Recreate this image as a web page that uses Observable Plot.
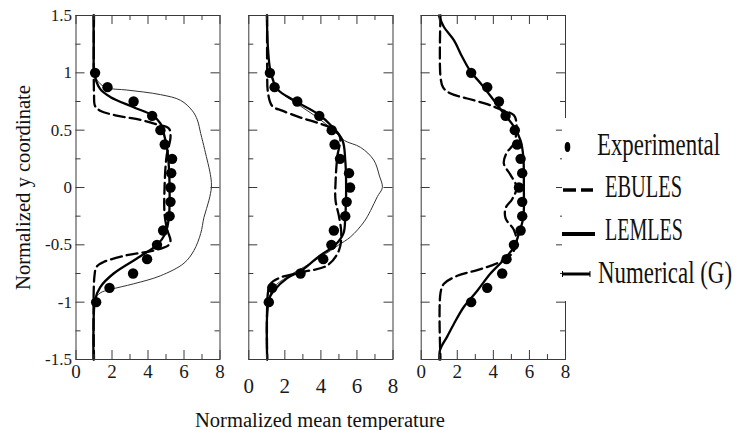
<!DOCTYPE html>
<html>
<head>
<meta charset="utf-8">
<script src="https://cdn.jsdelivr.net/npm/d3@7"></script>
<script src="https://cdn.jsdelivr.net/npm/@observablehq/plot@0.6"></script>
<style>
  html, body { margin: 0; padding: 0; background: #fff; }
  #chart { position: relative; width: 738px; height: 430px; overflow: hidden; background: #fff; font-family: "Liberation Serif", "Times New Roman", serif; }
  .panel { position: absolute; top: 0; }
  .panel text, #overlay text { font-family: "Liberation Serif", "Times New Roman", serif !important; }
  #overlay { position: absolute; left: 0; top: 0; pointer-events: none; }
</style>
</head>
<body>
<div id="chart"></div>
<script>
// ---- tick values ----
const xMajor = [0, 2, 4, 6, 8];
const xMinor = [1, 3, 5, 7];
const yMajor = [-1.5, -1, -0.5, 0, 0.5, 1, 1.5];
const yMinor = [-1.25, -0.75, -0.25, 0.25, 0.75, 1.25];

// ---- experimental points (normalized y) ----
const expY = [1, 0.875, 0.75, 0.625, 0.5, 0.375, 0.25, 0.125, 0, -0.125, -0.25, -0.375, -0.5, -0.625, -0.75, -0.875, -1];
const exp1T = [1.06, 1.75, 3.2, 4.23, 4.69, 4.93, 5.34, 5.29, 5.25, 5.25, 5.2, 4.84, 4.5, 3.95, 3.17, 1.86, 1.12];
const exp2T = [1.17, 1.43, 2.69, 3.91, 4.6, 4.76, 5.06, 5.56, 5.62, 5.43, 5.35, 4.72, 4.58, 4.13, 2.87, 1.3, 1.11];
const exp3T = [2.77, 3.66, 4.31, 4.68, 5.19, 5.32, 5.51, 5.6, 5.42, 5.6, 5.6, 5.51, 5.14, 4.73, 4.49, 3.66, 2.77];

// ---- panel 1 curves ----
const lem1Y = [1.5, 1.2, 0.99, 0.86, 0.79, 0.7, 0.63, 0.56, 0.47, 0.33, 0.18, 0, -0.26, -0.4, -0.5, -0.6, -0.75, -0.87, -0.98, -1.27, -1.5];
const lem1T = [0.97, 0.99, 1.02, 1.34, 1.9, 3.2, 4.23, 4.69, 4.88, 5.07, 5.16, 5.2, 5.16, 4.97, 4.5, 3.58, 2.09, 1.34, 1.06, 0.97, 0.97];
const ebu1Y = [1.5, 0.82, 0.71, 0.67, 0.63, 0.59, 0.55, 0.515, 0.44, 0.27, 0, -0.23, -0.37, -0.46, -0.5, -0.55, -0.59, -0.65, -0.69, -0.78, -1.5];
const ebu1T = [1.0, 1.0, 1.06, 1.34, 2.18, 3.58, 4.5, 5.16, 5.25, 5.03, 4.92, 4.92, 5.07, 5.25, 5.16, 4.32, 2.83, 1.53, 1.15, 1.02, 1.0];
const num1Y = [1.5, 1.0, 0.92, 0.87, 0.85, 0.81, 0.76, 0.67, 0.59, 0.47, 0.33, 0.09, 0, -0.11, -0.26, -0.4, -0.55, -0.66, -0.77, -0.84, -0.89, -0.92, -0.98, -1.5];
const num1T = [1.0, 1.02, 1.25, 1.71, 2.83, 4.69, 5.81, 6.46, 6.74, 6.93, 7.15, 7.49, 7.52, 7.39, 7.11, 6.93, 6.55, 6.0, 4.69, 3.2, 1.9, 1.34, 1.06, 1.0];

// ---- panel 2 curves ----
const lem2Y = [1.5, 1.2, 1.02, 0.86, 0.76, 0.645, 0.53, 0.41, 0.24, 0, -0.26, -0.4, -0.5, -0.6, -0.72, -0.79, -0.9, -0.98, -1.5];
const lem2T = [1.0, 1.07, 1.2, 1.57, 2.5, 3.8, 4.63, 5.2, 5.35, 5.4, 5.35, 5.25, 4.8, 3.89, 2.96, 2.13, 1.39, 1.11, 1.02];
const ebu2Y = [1.5, 1.05, 0.82, 0.71, 0.67, 0.61, 0.56, 0.515, 0.44, 0.27, 0.07, -0.11, -0.25, -0.4, -0.55, -0.68, -0.735, -0.785, -0.84, -0.92, -1.5];
const ebu2T = [1.02, 1.02, 1.07, 1.3, 1.85, 2.87, 3.89, 4.63, 5.06, 4.91, 4.82, 4.81, 5.0, 5.13, 5.0, 4.35, 3.06, 1.76, 1.2, 1.06, 1.02];
const num2Y = [1.5, 1.0, 0.85, 0.73, 0.59, 0.47, 0.41, 0.35, 0.24, 0.1, 0, -0.08, -0.2, -0.3, -0.43, -0.5, -0.55, -0.66, -0.78, -0.87, -0.98, -1.5];
const num2T = [1.0, 1.2, 1.67, 2.69, 3.98, 4.9, 5.3, 6.2, 6.93, 7.25, 7.41, 7.13, 6.76, 6.39, 5.65, 5.0, 4.54, 3.43, 2.13, 1.39, 1.11, 1.0];

// ---- panel 3 curves ----
const lem3Y = [1.5, 1.4, 1.285, 1.14, 1.01, 0.91, 0.76, 0.645, 0.53, 0.41, 0.27, 0, -0.26, -0.4, -0.52, -0.63, -0.75, -0.9, -1.04, -1.19, -1.3, -1.375, -1.42, -1.5];
const lem3T = [0.98, 1.26, 1.81, 2.27, 2.74, 3.29, 4.03, 4.58, 5.14, 5.51, 5.66, 5.69, 5.66, 5.42, 5.14, 4.58, 3.84, 3.11, 2.37, 1.81, 1.44, 1.16, 1.04, 1.0];
const ebu3Y = [1.5, 0.965, 0.87, 0.82, 0.776, 0.727, 0.68, 0.63, 0.53, 0.384, 0.3, 0.21, 0.11, 0, -0.1, -0.18, -0.27, -0.37, -0.49, -0.59, -0.66, -0.72, -0.77, -0.84, -0.92, -1.5];
const ebu3T = [1.07, 1.07, 1.22, 1.63, 2.55, 3.66, 4.4, 5.14, 5.29, 5.14, 4.73, 4.58, 4.95, 5.29, 5.05, 4.68, 4.68, 5.14, 5.29, 4.95, 4.21, 3.11, 2.0, 1.26, 1.07, 1.07];

// ---- text ----
const yTitle = "Normalized y coordinate";
const xTitle = "Normalized mean temperature";
const legendLabels = ["Experimental", "EBULES", "LEMLES", "Numerical (G)"];

const rows = (ys, ts) => ys.map((y, i) => ({y, t: ts[i]}));
const FONT = "Liberation Serif, Times New Roman, serif";

function panel(o) {
  const H = 400, MT = 15, MB = 41;
  const PH = H - MT - MB;
  const PW = o.width - o.ml - o.mr;
  const frameColor = "#3a3a3a";
  const marks = [];
  if (o.numY) marks.push(Plot.line(rows(o.numY, o.numT), {x: "t", y: "y", stroke: "#333", strokeWidth: 1, curve: "catmull-rom"}));
  marks.push(
    Plot.line(rows(o.ebuY, o.ebuT), {x: "t", y: "y", stroke: "#000", strokeWidth: 2.3, strokeDasharray: "11,5", curve: "catmull-rom"}),
    Plot.line(rows(o.lemY, o.lemT), {x: "t", y: "y", stroke: "#000", strokeWidth: 2.3, curve: "catmull-rom"}),
    Plot.dot(rows(expY, o.expT), {x: "t", y: "y", r: 5.2, fill: "#000", stroke: "none"}),
    Plot.frame({stroke: frameColor, strokeWidth: 1}),
    Plot.tickX(xMajor, {x: d => d, insetTop: PH - 9, stroke: frameColor}),
    Plot.tickX(xMinor, {x: d => d, insetTop: PH - 5, stroke: frameColor}),
    Plot.tickX(xMajor, {x: d => d, insetBottom: PH - 9, stroke: frameColor}),
    Plot.tickX(xMinor, {x: d => d, insetBottom: PH - 5, stroke: frameColor}),
    Plot.tickY(yMajor, {y: d => d, insetRight: PW - 9, stroke: frameColor}),
    Plot.tickY(yMinor, {y: d => d, insetRight: PW - 5, stroke: frameColor}),
    Plot.tickY(yMajor, {y: d => d, insetLeft: PW - 9, stroke: frameColor}),
    Plot.tickY(yMinor, {y: d => d, insetLeft: PW - 5, stroke: frameColor}),
    Plot.axisX(xMajor, {tickSize: 0, tickPadding: o.pad, fontSize: o.xfs, fontFamily: FONT, tickFormat: d => String(d), label: null})
  );
  if (o.yLabels) marks.push(Plot.axisY(yMajor, {tickSize: 0, tickPadding: 4, fontSize: 17, fontFamily: FONT, tickFormat: d => String(d), label: null}));
  const svg = Plot.plot({
    width: o.width, height: H,
    marginTop: MT, marginBottom: MB, marginLeft: o.ml, marginRight: o.mr,
    x: {domain: [0, 8]},
    y: o.yLabels ? {domain: [-1.5, 1.5]} : {domain: [-1.5, 1.5], axis: null},
    style: {fontFamily: FONT, background: "transparent", color: "#1a1a1a", overflow: "visible"},
    marks
  });
  svg.classList.add("panel");
  svg.style.left = o.left + "px";
  return svg;
}

const chart = document.getElementById("chart");
chart.appendChild(panel({left: 0, width: 232, ml: 75.5, mr: 12.5, pad: 5.4, xfs: 19, yLabels: true,
  expT: exp1T, lemY: lem1Y, lemT: lem1T, ebuY: ebu1Y, ebuT: ebu1T, numY: num1Y, numT: num1T}));
chart.appendChild(panel({left: 232, width: 172, ml: 16.3, mr: 11.5, pad: 18.3, xfs: 21, yLabels: false,
  expT: exp2T, lemY: lem2Y, lemT: lem2T, ebuY: ebu2Y, ebuT: ebu2T, numY: num2Y, numT: num2T}));
chart.appendChild(panel({left: 404, width: 170, ml: 16.7, mr: 9, pad: 5.4, xfs: 19, yLabels: false,
  expT: exp3T, lemY: lem3Y, lemT: lem3T, ebuY: ebu3Y, ebuT: ebu3T}));

// ---- overlay: axis titles and legend ----
const NS = "http://www.w3.org/2000/svg";
const ov = document.createElementNS(NS, "svg");
ov.setAttribute("id", "overlay");
ov.setAttribute("width", 738);
ov.setAttribute("height", 430);
ov.setAttribute("font-family", FONT);
function el(tag, attrs, parent) {
  const e = document.createElementNS(NS, tag);
  for (const k in attrs) e.setAttribute(k, attrs[k]);
  (parent || ov).appendChild(e);
  return e;
}
const yt = el("text", {transform: "translate(30,187.5) rotate(-90)", "text-anchor": "middle", "font-size": 20, "font-family": FONT, fill: "#111", textLength: 205, lengthAdjust: "spacingAndGlyphs"});
yt.textContent = yTitle;
const xt = el("text", {x: 320, y: 427, "text-anchor": "middle", "font-size": 20, "font-family": FONT, fill: "#111", textLength: 250, lengthAdjust: "spacingAndGlyphs"});
xt.textContent = xTitle;

// legend box (white, covers the right edge of the third panel)
const lg = el("g", {transform: "translate(562,118)"});
el("rect", {x: 0, y: 0, width: 176, height: 183, fill: "#fff"}, lg);
el("ellipse", {cx: 5.5, cy: 29, rx: 2.8, ry: 5, fill: "#000"}, lg);
el("line", {x1: 1, x2: 31, y1: 72, y2: 72, stroke: "#000", "stroke-width": 3.5, "stroke-dasharray": "13,5"}, lg);
el("line", {x1: 0, x2: 33, y1: 116, y2: 116, stroke: "#000", "stroke-width": 4}, lg);
el("line", {x1: 0, x2: 28, y1: 156, y2: 156, stroke: "#000", "stroke-width": 3}, lg);
el("line", {x1: 0.5, x2: 0.5, y1: 153, y2: 159, stroke: "#000", "stroke-width": 1}, lg);
el("line", {x1: 28, x2: 28, y1: 153, y2: 159, stroke: "#000", "stroke-width": 1}, lg);
const legPos = [[35, 37, 123], [43, 79, 77], [43, 122, 78], [36, 165, 134]];
legendLabels.forEach((s, i) => {
  const [x, y, w] = legPos[i];
  const t = el("text", {transform: `translate(${x},${y}) scale(1,1.4)`, x: 0, y: 0, "font-size": 22, "font-family": FONT, fill: "#111", textLength: w, lengthAdjust: "spacingAndGlyphs"}, lg);
  t.textContent = s;
});
chart.appendChild(ov);
</script>
</body>
</html>
